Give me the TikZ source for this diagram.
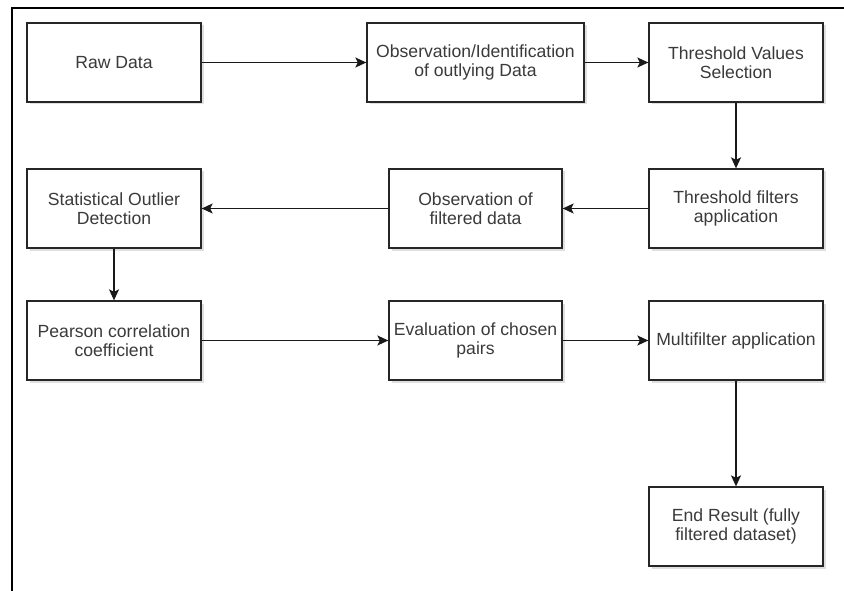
\documentclass[tikz,border=0pt]{standalone}
\usepackage{fontspec}
\setmainfont{Liberation Sans}
\usetikzlibrary{arrows.meta,shadows}
\definecolor{txt}{HTML}{3A3A3A}
\begin{document}
\begin{tikzpicture}[x=1pt,y=-1pt,
  box/.style={draw=black!85, line width=1.3pt, fill=white, rectangle, align=center,
    minimum width=174pt, minimum height=79pt, inner sep=2pt,
    text=txt, font=\fontsize{17.6}{18.6}\selectfont,
    drop shadow={opacity=0.25, shadow xshift=2.5pt, shadow yshift=-2.5pt}},
  conn/.style={draw=black!90, line width=1.3pt, -{Stealth[length=11pt,width=10pt,inset=2.5pt]}}]
\useasboundingbox (0,0) rectangle (844,591);
\fill[white] (0,0) rectangle (844,591);
\draw[line width=2pt, black] (12,591) -- (12,8) -- (844,8);

\node[box] (raw) at (114,62.5) {Raw Data};
\node[box, minimum width=217pt] (obs) at (475.5,62.5) {Observation/Identification\\of outlying Data};
\node[box] (tvs) at (736,62.5) {Threshold Values\\Selection};

\node[box] (sod) at (114,208.5) {Statistical Outlier\\Detection};
\node[box, minimum width=173pt] (ofd) at (475.5,208.5) {Observation of\\filtered data};
\node[box] (tfa) at (736,208.5) {Threshold filters\\application};

\node[box] (pcc) at (114,340.5) {Pearson correlation\\coefficient};
\node[box, minimum width=173pt] (ecp) at (475.5,340.5) {Evaluation of chosen\\pairs};
\node[box] (mfa) at (736,340.5) {Multifilter application};

\node[box] (end) at (736,526.5) {End Result (fully\\filtered dataset)};

\draw[conn] (raw) -- (obs);
\draw[conn] (obs) -- (tvs);
\draw[conn] (tvs) -- (tfa);
\draw[conn] (tfa) -- (ofd);
\draw[conn] (ofd) -- (sod);
\draw[conn] (sod) -- (pcc);
\draw[conn] (pcc) -- (ecp);
\draw[conn] (ecp) -- (mfa);
\draw[conn] (mfa) -- (end);
\end{tikzpicture}
\end{document}
